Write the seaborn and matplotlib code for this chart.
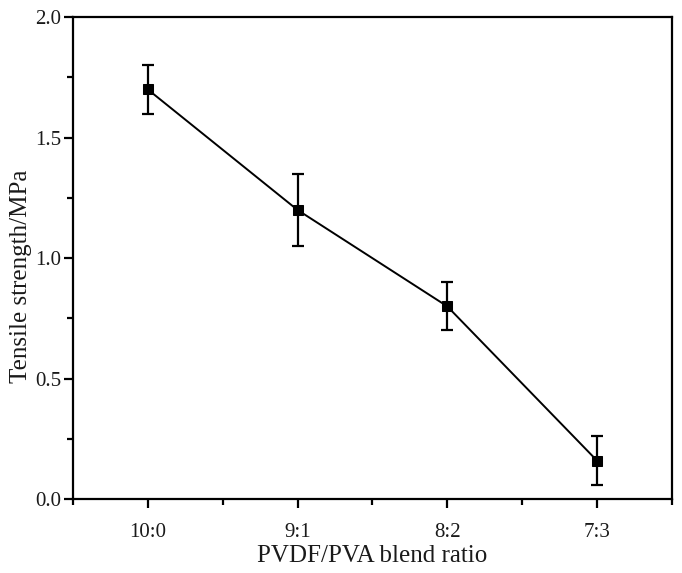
import matplotlib
matplotlib.use("Agg")
import matplotlib.pyplot as plt
import seaborn as sns
import pandas as pd
import numpy as np
from matplotlib.ticker import MultipleLocator, FixedLocator, FormatStrFormatter

sns.set_style("ticks")
plt.rcParams['font.family'] = ['Liberation Serif', 'DejaVu Serif']

ratios = ["10:0", "9:1", "8:2", "7:3"]
strength = [1.70, 1.20, 0.80, 0.16]
errors = [0.10, 0.15, 0.10, 0.10]

df = pd.DataFrame({"pos": np.arange(len(ratios)), "strength": strength, "err": errors})

fig = plt.figure(figsize=(6.82, 5.73), dpi=100)
ax = fig.add_axes([0.107, 0.129, 0.878, 0.841])

sns.lineplot(data=df, x="pos", y="strength", ax=ax, color="black", linewidth=1.4,
             marker="s", markersize=7, markeredgecolor="black", markerfacecolor="black")
ax.errorbar(df["pos"], df["strength"], yerr=df["err"], fmt="none", ecolor="black",
            elinewidth=1.6, capsize=4.5, capthick=1.6)

ax.set_xlim(-0.5, 3.5)
ax.set_ylim(0, 2.0)
ax.set_xticks(df["pos"])
ax.set_xticklabels(ratios)
ax.xaxis.set_minor_locator(FixedLocator([-0.5, 0.5, 1.5, 2.5, 3.5]))
ax.yaxis.set_major_locator(MultipleLocator(0.5))
ax.yaxis.set_minor_locator(MultipleLocator(0.25))
ax.yaxis.set_major_formatter(FormatStrFormatter('%.1f'))

for s in ax.spines.values():
    s.set_visible(True)
    s.set_linewidth(1.6)
    s.set_color("black")

ax.tick_params(axis='both', which='major', direction='out', length=6.5, width=1.6,
               labelsize=15, color='black', labelcolor='#1a1a1a')
ax.tick_params(axis='y', which='major', pad=2)
ax.tick_params(axis='x', which='major', pad=11)
ax.tick_params(axis='both', which='minor', direction='out', length=4, width=1.6, color='black')
ax.tick_params(top=False, right=False, which='both')

ax.set_xlabel("PVDF/PVA blend ratio", fontsize=18, color='#1a1a1a', labelpad=2)
ax.set_ylabel("Tensile strength/MPa", fontsize=18, color='#1a1a1a')
ax.yaxis.set_label_coords(-0.068, 0.463)

fig.savefig("out.png", dpi=100)
